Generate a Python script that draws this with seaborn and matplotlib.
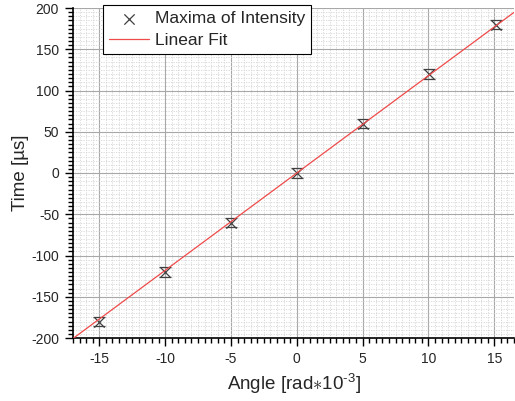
import matplotlib
matplotlib.use("Agg")
import matplotlib.pyplot as plt
import numpy as np
import pandas as pd
import seaborn as sns
from matplotlib.ticker import MultipleLocator

# Measured maxima of intensity
angle = [-15.0, -10.0, -5.0, 0.0, 5.0, 10.05, 15.15]
time_us = [-180.0, -120.0, -60.0, 0.0, 60.0, 120.0, 180.0]
time_err = [6.0, 6.0, 6.0, 6.0, 6.0, 6.0, 6.0]

# Linear fit coefficients (time = slope * angle + intercept)
fit_slope = 11.8
fit_intercept = 0.0

x_ticks = [-15, -10, -5, 0, 5, 10, 15]
y_ticks = [-200, -150, -100, -50, 0, 50, 100, 150, 200]

sns.set_style("white")
plt.rcParams["font.family"] = ["Liberation Sans", "DejaVu Sans"]
plt.rcParams["mathtext.fontset"] = "custom"
plt.rcParams["mathtext.rm"] = "Liberation Sans"
plt.rcParams["axes.unicode_minus"] = False

fig = plt.figure(figsize=(5.15, 4.01), dpi=100)
ax = fig.add_axes([73 / 515, 1 - 338 / 401, (514 - 73) / 515, (338 - 8) / 401])

xlim = (-17.0, 16.5)
ax.set_xlim(*xlim)
ax.set_ylim(-200, 200)

df = pd.DataFrame({"angle": angle, "time": time_us, "err": time_err})
fit_x = np.array(xlim)
fit_df = pd.DataFrame({"angle": fit_x, "time": fit_slope * fit_x + fit_intercept})

# grid
ax.xaxis.set_major_locator(MultipleLocator(5))
ax.xaxis.set_minor_locator(MultipleLocator(0.5))
ax.yaxis.set_major_locator(MultipleLocator(50))
ax.yaxis.set_minor_locator(MultipleLocator(5))
ax.grid(which="major", color="#a8a8a8", linewidth=0.8, zorder=0)
ax.grid(which="minor", color="#d6d6d6", linewidth=0.6, linestyle=(0, (1.5, 1.5)), zorder=0)
ax.set_axisbelow(True)

# caps forming the hourglass markers
ax.errorbar(df["angle"], df["time"], yerr=df["err"], fmt="none", ecolor="#404040",
            elinewidth=0, capsize=4.2, capthick=0.9, zorder=3)
sns.scatterplot(data=df, x="angle", y="time", marker="x", color="#404040", s=55,
                linewidth=0.9, ax=ax, zorder=4, label="Maxima of Intensity")
sns.lineplot(data=fit_df, x="angle", y="time", color="#f04a4a", linewidth=0.9,
             ax=ax, zorder=5, label="Linear Fit")

ax.set_xticks(x_ticks)
ax.set_yticks(y_ticks)
ax.set_xticklabels([str(v) for v in x_ticks])
ax.set_yticklabels([str(v) for v in y_ticks])
ax.tick_params(axis="both", which="major", direction="out", length=6, width=1,
               labelsize=10, color="black", pad=4)
ax.tick_params(axis="both", which="minor", direction="out", length=3.5, width=1,
               color="black")
ax.tick_params(bottom=True, left=True, which="both")

for side in ["top", "right"]:
    ax.spines[side].set_visible(False)
for side in ["left", "bottom"]:
    ax.spines[side].set_color("black")
    ax.spines[side].set_linewidth(1.2)

ax.set_xlabel("Angle [rad$\\ast$10$^{\\mathregular{\u20103}}$]", fontsize=13.5)
ax.set_ylabel("Time [\u00b5s]", fontsize=13.5)
ax.xaxis.set_label_coords(0.5, -0.1)
ax.yaxis.set_label_coords(-0.1, 0.5)

leg = ax.legend(loc="upper left", bbox_to_anchor=(30 / 441, 1.009), fontsize=12.5,
                frameon=True, fancybox=False, edgecolor="black", framealpha=1,
                borderpad=0.35, handlelength=2.3, handletextpad=0.35, labelspacing=0.4,
                borderaxespad=0)
leg.get_frame().set_linewidth(0.8)

fig.savefig("out.png", dpi=100)
